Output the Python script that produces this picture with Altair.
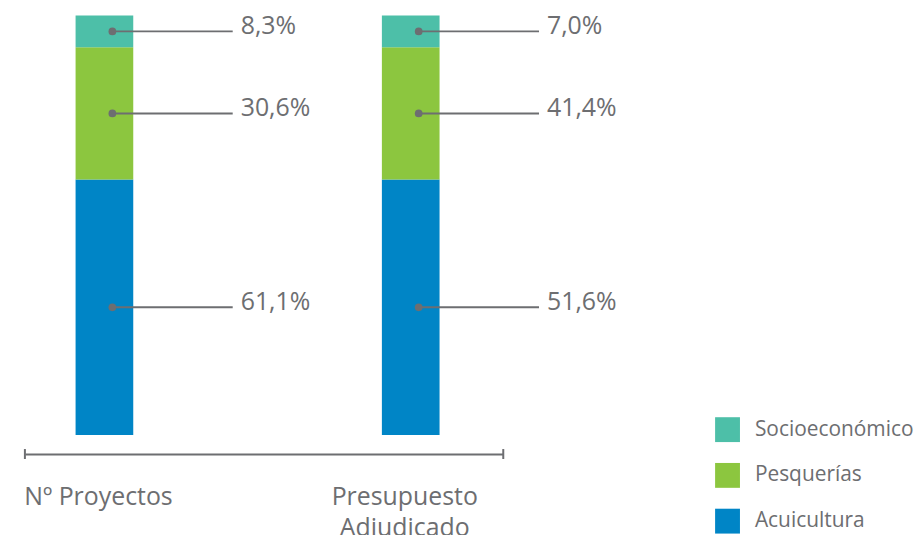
import altair as alt
import pandas as pd

# ---- data ----
categories = ["Nº Proyectos", "Presupuesto Adjudicado"]
series = ["Socioeconómico", "Pesquerías", "Acuicultura"]          # legend order (top to bottom)
stack_order = ["Acuicultura", "Pesquerías", "Socioeconómico"]     # bottom to top
colors = ["#4dbfa8", "#8cc63f", "#0085c6"]

# segment heights as drawn (percent of bar)
drawn_acuicultura = [60.9, 60.9]
drawn_pesquerias = [31.5, 31.5]
drawn_socioeconomico = [7.6, 7.6]

# printed labels
label_acuicultura = ["61,1%", "51,6%"]
label_pesquerias = ["30,6%", "41,4%"]
label_socioeconomico = ["8,3%", "7,0%"]

drawn = {"Acuicultura": drawn_acuicultura, "Pesquerías": drawn_pesquerias,
         "Socioeconómico": drawn_socioeconomico}
labels = {"Acuicultura": label_acuicultura, "Pesquerías": label_pesquerias,
          "Socioeconómico": label_socioeconomico}

rows = []
for i, cat in enumerate(categories):
    base_v = 0.0
    for s in stack_order:
        v = drawn[s][i]
        rows.append({"cat": cat, "series": s, "y0": base_v, "y1": base_v + v,
                     "mid": base_v + v / 2, "label": labels[s][i]})
        base_v += v
df = pd.DataFrame(rows)

GRAY = "#6d6e71"
FONT = "Open Sans"

xenc = alt.X(
    "cat:N", sort=categories, title=None,
    scale=alt.Scale(paddingInner=0.8117, paddingOuter=0.1867, align=0.443),
    axis=alt.Axis(
        labelAngle=0, ticks=False, tickSize=0, domainColor=GRAY, domainWidth=2,
        offset=19, labelPadding=31, labelFontSize=25, labelFont=FONT,
        labelColor=GRAY, labelOffset=-6, labelLineHeight=31, labelLimit=400,
        labelExpr="datum.value == 'Presupuesto Adjudicado' ? ['Presupuesto', 'Adjudicado'] : datum.label",
    ),
)
yscale = alt.Scale(domain=[0, 100], nice=False, zero=True)

base = alt.Chart(df)

bars = base.mark_bar().encode(
    x=xenc,
    y=alt.Y("y0:Q", scale=yscale, axis=None),
    y2="y1:Q",
    color=alt.Color(
        "series:N",
        scale=alt.Scale(domain=series, range=colors),
        legend=alt.Legend(
            title=None, orient="none", legendX=694, legendY=404,
            symbolType="square", symbolSize=625, symbolStrokeWidth=0,
            symbolOpacity=1, labelFontSize=21, labelFont=FONT, labelColor=GRAY,
            labelOffset=15, rowPadding=21, padding=0, labelLimit=300,
        ),
    ),
)

leader = base.mark_tick(color=GRAY, thickness=2, size=121, xOffset=68.5, opacity=1).encode(
    x=alt.X("cat:N", sort=categories),
    y=alt.Y("mid:Q", scale=yscale),
)

dots = base.mark_circle(color=GRAY, size=60, opacity=1, xOffset=8).encode(
    x=alt.X("cat:N", sort=categories),
    y=alt.Y("mid:Q", scale=yscale),
)

texts = base.mark_text(align="left", baseline="alphabetic", dx=137, dy=3,
                       fontSize=25, font=FONT, color=GRAY).encode(
    x=alt.X("cat:N", sort=categories),
    y=alt.Y("mid:Q", scale=yscale),
    text="label:N",
)

cap_df = pd.DataFrame({"k": [0]})
cap_left = alt.Chart(cap_df).mark_rule(color=GRAY, strokeWidth=2).encode(
    x=alt.value(0), y=alt.value(436), y2=alt.value(446))
cap_right = alt.Chart(cap_df).mark_rule(color=GRAY, strokeWidth=2).encode(
    x=alt.value(481), y=alt.value(436), y2=alt.value(446))

chart = alt.layer(bars, leader, dots, texts, cap_left, cap_right).properties(
    width=481, height=422,
    padding={"left": 15, "top": 5, "right": 0, "bottom": 0},
).configure_view(strokeWidth=0, stroke=None)

chart.save("out.html", embed_options={"renderer": "svg", "actions": False})
